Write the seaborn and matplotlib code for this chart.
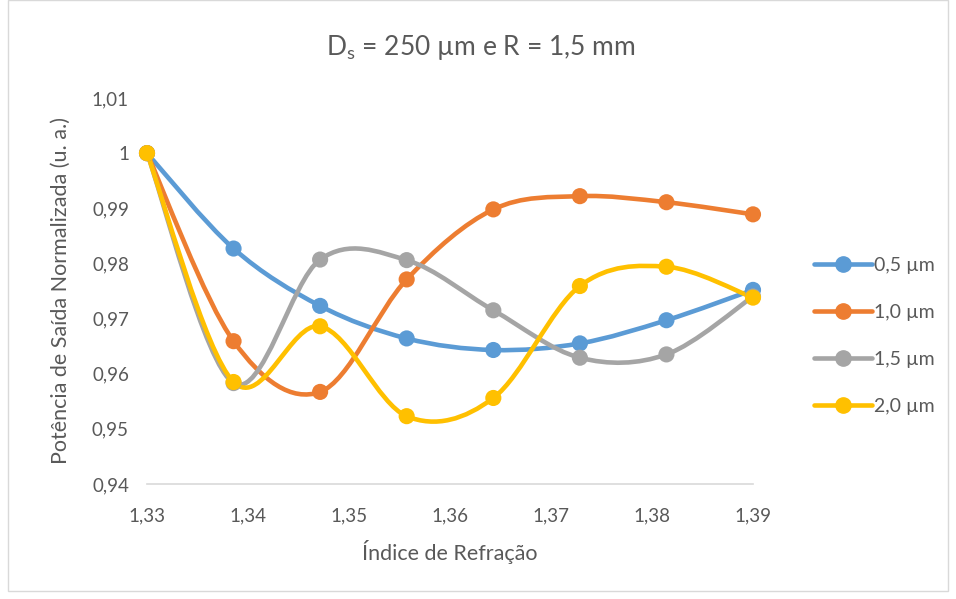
import numpy as np
import pandas as pd
import matplotlib
matplotlib.use("Agg")
import matplotlib.pyplot as plt
from matplotlib.path import Path
from matplotlib.patches import PathPatch, Rectangle
from matplotlib.lines import Line2D
import seaborn as sns

# ---- data ----
x_vals = [1.33, 1.33857, 1.34714, 1.35571, 1.36429, 1.37286, 1.38143, 1.39]
s05 = [1.0, 0.9827, 0.9723, 0.9664, 0.9643, 0.9655, 0.9697, 0.9752]
s10 = [1.0, 0.9659, 0.9567, 0.9771, 0.9898, 0.9922, 0.9911, 0.9889]
s15 = [1.0, 0.9583, 0.9807, 0.9806, 0.9715, 0.9629, 0.9635, 0.9740]
s20 = [1.0, 0.9585, 0.9686, 0.9523, 0.9556, 0.9759, 0.9794, 0.9738]
series_names = ["0,5 µm", "1,0 µm", "1,5 µm", "2,0 µm"]
colors = ["#5B9BD5", "#ED7D31", "#A5A5A5", "#FFC000"]
x_ticks = [1.33, 1.34, 1.35, 1.36, 1.37, 1.38, 1.39]
x_ticklabels = ["1,33", "1,34", "1,35", "1,36", "1,37", "1,38", "1,39"]
y_ticks = [0.94, 0.95, 0.96, 0.97, 0.98, 0.99, 1.00, 1.01]
y_ticklabels = ["0,94", "0,95", "0,96", "0,97", "0,98", "0,99", "1", "1,01"]

sns.set_theme(style="white")
plt.rcParams['font.family'] = ['Lato', 'DejaVu Sans']
txt = "#595959"

df = pd.DataFrame({
    "x": x_vals * 4,
    "y": s05 + s10 + s15 + s20,
    "serie": sum([[n] * len(x_vals) for n in series_names], []),
})

fig = plt.figure(figsize=(9.56, 5.99), dpi=100)
ax = fig.add_axes([147/956, 1-484/599, (753-147)/956, (484-98)/599])

def smooth_path(xs, ys):
    pts = np.column_stack([xs, ys])
    n = len(pts)
    verts = [pts[0]]
    codes = [Path.MOVETO]
    for i in range(n - 1):
        p0 = pts[i - 1] if i > 0 else pts[i]
        p1 = pts[i]
        p2 = pts[i + 1]
        p3 = pts[i + 2] if i + 2 < n else pts[i + 1]
        c1 = p1 + (p2 - p0) / 6.0
        c2 = p2 - (p3 - p1) / 6.0
        verts += [c1, c2, p2]
        codes += [Path.CURVE4] * 3
    return Path(verts, codes)

for name, col in zip(series_names, colors):
    sub = df[df.serie == name]
    patch = PathPatch(smooth_path(sub.x.values, sub.y.values), facecolor="none",
                      edgecolor=col, lw=3.3, capstyle="round", joinstyle="round",
                      clip_on=False, zorder=2)
    ax.add_patch(patch)
    sns.scatterplot(data=sub, x="x", y="y", color=col, s=135, edgecolor="none",
                    ax=ax, clip_on=False, zorder=3, legend=False)

ax.set_xlim(1.33, 1.39)
ax.set_ylim(0.94, 1.01)
ax.set_xticks(x_ticks)
ax.set_xticklabels(x_ticklabels, fontsize=13.5, color=txt)
ax.set_yticks(y_ticks)
ax.set_yticklabels(y_ticklabels, fontsize=13.5, color=txt)
ax.tick_params(axis="x", length=0, pad=17)
ax.tick_params(axis="y", length=0, pad=13)
for s in ["top", "right", "left"]:
    ax.spines[s].set_visible(False)
ax.spines["bottom"].set_color("#d9d9d9")
ax.spines["bottom"].set_linewidth(1.2)
ax.set_xlabel("Índice de Refração", fontsize=15.5, color=txt, labelpad=11)
ax.set_ylabel("Potência de Saída Normalizada (u. a.)", fontsize=15.5, color=txt, labelpad=15)
fig.text(481/956, 1-47/599, r"D$_{\mathregular{s}}$ = 250 µm e R = 1,5 mm",
         ha="center", va="center", fontsize=19, color=txt)

handles = [Line2D([0], [0], color=c, lw=3.3, marker="o", markersize=11) for c in colors]
leg = fig.legend(handles, series_names, loc="center left",
                 bbox_to_anchor=(796/956, 1-336/599), frameon=False,
                 fontsize=14, labelspacing=1.55, handlelength=3.0, handletextpad=0.1)
for t in leg.get_texts():
    t.set_color(txt)

fig.patches.append(Rectangle((8/956, 8/599), 1 - 16/956, 1 - 8/599, transform=fig.transFigure,
                             fill=False, edgecolor="#d9d9d9", lw=1))

fig.savefig("out.png", dpi=100)
